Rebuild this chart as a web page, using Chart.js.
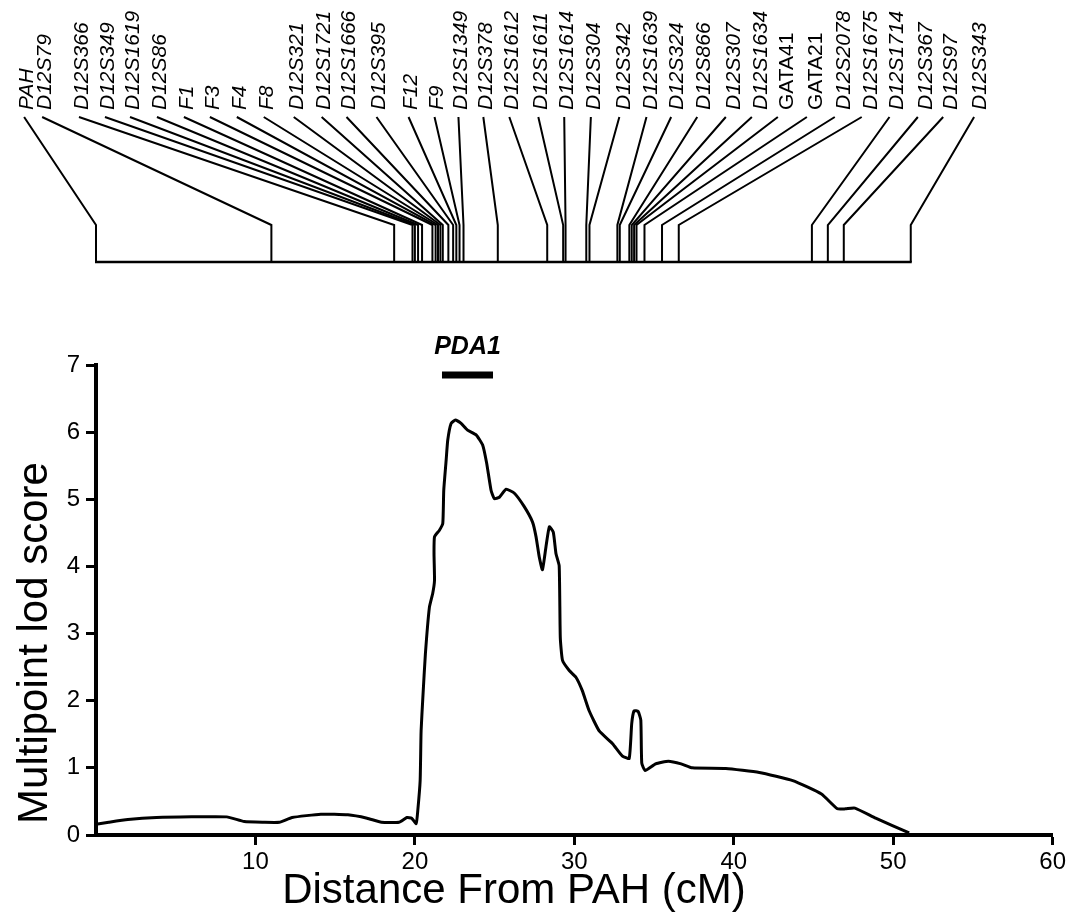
<!DOCTYPE html>
<html>
<head>
<meta charset="utf-8">
<script src="https://cdn.jsdelivr.net/npm/chart.js@4.4.1/dist/chart.umd.min.js"></script>
<style>
html, body { margin: 0; padding: 0; background: #fff; }
#wrap { width: 1069px; height: 917px; position: relative; }
</style>
</head>
<body>
<div id="wrap"><canvas id="lodChart"></canvas></div>
<script>
// multipoint lod curve
const distCM = [0, 0.8, 2.0, 3.8, 6.0, 8.2, 9.3, 10.5, 11.5, 12.3, 14.1, 15.8, 17.0, 17.9, 19.0, 19.5, 19.8,
    20.08, 20.18, 20.33, 20.39, 20.5, 20.66, 20.91, 21.12, 21.23, 21.2, 21.23, 21.54, 21.75, 21.81, 21.96, 22.06,
    22.27, 22.54, 22.9, 23.3, 23.84, 24.25, 24.5, 24.78, 24.98, 25.3, 25.72, 26.24, 26.86, 27.38, 27.6, 27.8,
    28.0, 28.22, 28.43, 28.68, 28.85, 29.05, 29.12, 29.26, 29.68, 30.1, 30.5, 30.93, 31.56, 32.4, 33.0, 33.44,
    33.6, 33.75, 34.0, 34.17, 34.23, 34.44, 35.1, 35.9, 36.7, 37.4, 39.5, 41.6, 43.7, 45.5, 46.5, 47.0, 47.6,
    48.9, 51.0];
const lodScore = [0.16, 0.19, 0.23, 0.26, 0.27, 0.27, 0.2, 0.19, 0.19, 0.26, 0.31, 0.3, 0.25, 0.19, 0.19, 0.26, 0.25,
    0.17, 0.36, 0.81, 1.55, 2.05, 2.7, 3.39, 3.6, 3.79, 4.19, 4.44, 4.54, 4.64, 5.13, 5.58, 5.88,
    6.13, 6.18, 6.13, 6.03, 5.96, 5.81, 5.54, 5.13, 5.01, 5.03, 5.15, 5.09, 4.89, 4.66, 4.44, 4.14,
    3.95, 4.29, 4.59, 4.51, 4.19, 4.01, 2.94, 2.6, 2.45, 2.35, 2.15, 1.85, 1.55, 1.36, 1.18, 1.14,
    1.66, 1.85, 1.84, 1.71, 1.07, 0.96, 1.06, 1.1, 1.06, 1.0, 0.99, 0.93, 0.81, 0.61, 0.39, 0.39, 0.4,
    0.25, 0.03];

// marker map above the plot
const markerNames = ["PAH", "D12S79", "D12S366", "D12S349", "D12S1619", "D12S86", "F1", "F3", "F4", "F8",
    "D12S321", "D12S1721", "D12S1666", "D12S395", "F12", "F9", "D12S1349", "D12S378", "D12S1612", "D12S1611",
    "D12S1614", "D12S304", "D12S342", "D12S1639", "D12S324", "D12S866", "D12S307", "D12S1634", "GATA41",
    "GATA21", "D12S2078", "D12S1675", "D12S1714", "D12S367", "D12S97", "D12S343"];
const markerCM = [0, 11.0, 18.7, 19.85, 20.0, 20.2, 20.45, 21.1, 21.3, 21.45,
    21.6, 21.75, 22.1, 22.4, 22.6, 22.8, 23.05, 25.2, 28.3, 29.3,
    29.45, 30.75, 30.95, 32.7, 32.85, 33.45, 33.6, 33.75, 33.9,
    34.4, 35.5, 36.55, 44.9, 45.9, 46.9, 51.1];
// where each name sits along the top, in cM units of the same axis
const labelSlotCM = [-4.32, -3.19, -0.88, 0.75, 2.32, 4.01, 5.70, 7.33, 9.02, 10.71,
    12.59, 14.34, 15.90, 17.78, 19.79, 21.42, 22.92, 24.48, 26.11, 27.93,
    29.56, 31.25, 33.12, 34.82, 36.44, 38.13, 40.01, 41.70, 43.33,
    45.15, 46.90, 48.59, 50.22, 52.04, 53.66, 55.48];
const uprightNames = ["GATA41", "GATA21"];

const pda1Name = "PDA1";
const pda1CM = [21.7, 24.9];
const pda1Lod = 6.85;

const xTitle = "Distance From PAH (cM)";
const yTitle = "Multipoint lod score";

const FONT = "'Liberation Sans', Arial, Helvetica, sans-serif";
Chart.defaults.font.family = FONT;
Chart.defaults.color = "#000";

const curve = distCM.map((d, i) => ({ x: d, y: lodScore[i] }));
const pdaBar = pda1CM.map(d => ({ x: d, y: pda1Lod }));

const mapPlugin = {
    id: "markerMap",
    afterDraw(chart) {
        const ctx = chart.ctx;
        const xs = chart.scales.x;
        const ys = chart.scales.y;
        const baseY = 262, stemY = 225, stubY = 117, labelY = 110;

        ctx.save();
        ctx.strokeStyle = "#000";
        ctx.fillStyle = "#000";

        // chromosome line
        const first = xs.getPixelForValue(Math.min(...markerCM));
        const last = xs.getPixelForValue(Math.max(...markerCM));
        ctx.lineWidth = 2.5;
        ctx.beginPath();
        ctx.moveTo(first - 1, baseY);
        ctx.lineTo(last + 1, baseY);
        ctx.stroke();

        ctx.lineWidth = 2;
        markerNames.forEach((name, i) => {
            const mx = xs.getPixelForValue(markerCM[i]);
            const lx = xs.getPixelForValue(labelSlotCM[i]);
            const d = mx - lx;
            const sx = lx - Math.min(9, 3 + Math.max(0, -d) * 0.05);
            ctx.beginPath();
            ctx.moveTo(mx, baseY);
            ctx.lineTo(mx, stemY);
            ctx.lineTo(sx, stubY);
            ctx.stroke();

            ctx.save();
            ctx.translate(lx, labelY);
            ctx.rotate(-Math.PI / 2);
            ctx.font = (uprightNames.includes(name) ? "" : "italic ") + "21px " + FONT;
            ctx.textAlign = "left";
            ctx.textBaseline = "middle";
            ctx.fillText(name, 0, 0);
            ctx.restore();
        });

        // PDA1 label over its bar
        ctx.font = "italic bold 25px " + FONT;
        ctx.textAlign = "center";
        ctx.textBaseline = "middle";
        const px = (xs.getPixelForValue(pda1CM[0]) + xs.getPixelForValue(pda1CM[1])) / 2;
        ctx.fillText(pda1Name, px, ys.getPixelForValue(pda1Lod) - 28);

        // axis titles
        ctx.font = "42px " + FONT;
        ctx.fillText(xTitle, 514, 891);
        ctx.save();
        ctx.translate(35, 643);
        ctx.rotate(-Math.PI / 2);
        ctx.fillText(yTitle, 0, 0);
        ctx.restore();

        ctx.restore();
    }
};

const tickFont = { family: FONT, size: 24 };

new Chart(document.getElementById("lodChart"), {
    type: "scatter",
    data: {
        datasets: [
            {
                data: curve,
                showLine: true,
                borderColor: "#000",
                borderWidth: 3,
                pointRadius: 0,
                tension: 0.15
            },
            {
                data: pdaBar,
                showLine: true,
                borderColor: "#000",
                borderWidth: 7,
                pointRadius: 0,
                borderCapStyle: "butt"
            }
        ]
    },
    options: {
        responsive: true,
        maintainAspectRatio: false,
        animation: false,
        layout: { padding: { top: 365, right: 15, left: 0, bottom: 0 } },
        plugins: { legend: { display: false }, tooltip: { enabled: false } },
        scales: {
            x: {
                type: "linear",
                min: 0,
                max: 60,
                ticks: {
                    stepSize: 10,
                    color: "#000",
                    font: tickFont,
                    padding: 3,
                    maxRotation: 0,
                    callback: v => (v === 0 ? "" : v)
                },
                grid: {
                    drawOnChartArea: false,
                    tickLength: 10,
                    tickWidth: 3,
                    tickColor: c => (c.tick && c.tick.value === 0 ? "rgba(0,0,0,0)" : "#000")
                },
                border: { width: 4, color: "#000" },
                afterFit: s => { s.height = 82; }
            },
            y: {
                min: 0,
                max: 7,
                ticks: { stepSize: 1, color: "#000", font: tickFont, padding: 6 },
                grid: { drawOnChartArea: false, tickLength: 10, tickWidth: 3, tickColor: "#000" },
                border: { width: 4, color: "#000" },
                afterFit: s => { s.width = 96; }
            }
        }
    },
    plugins: [mapPlugin]
});
</script>
</body>
</html>
